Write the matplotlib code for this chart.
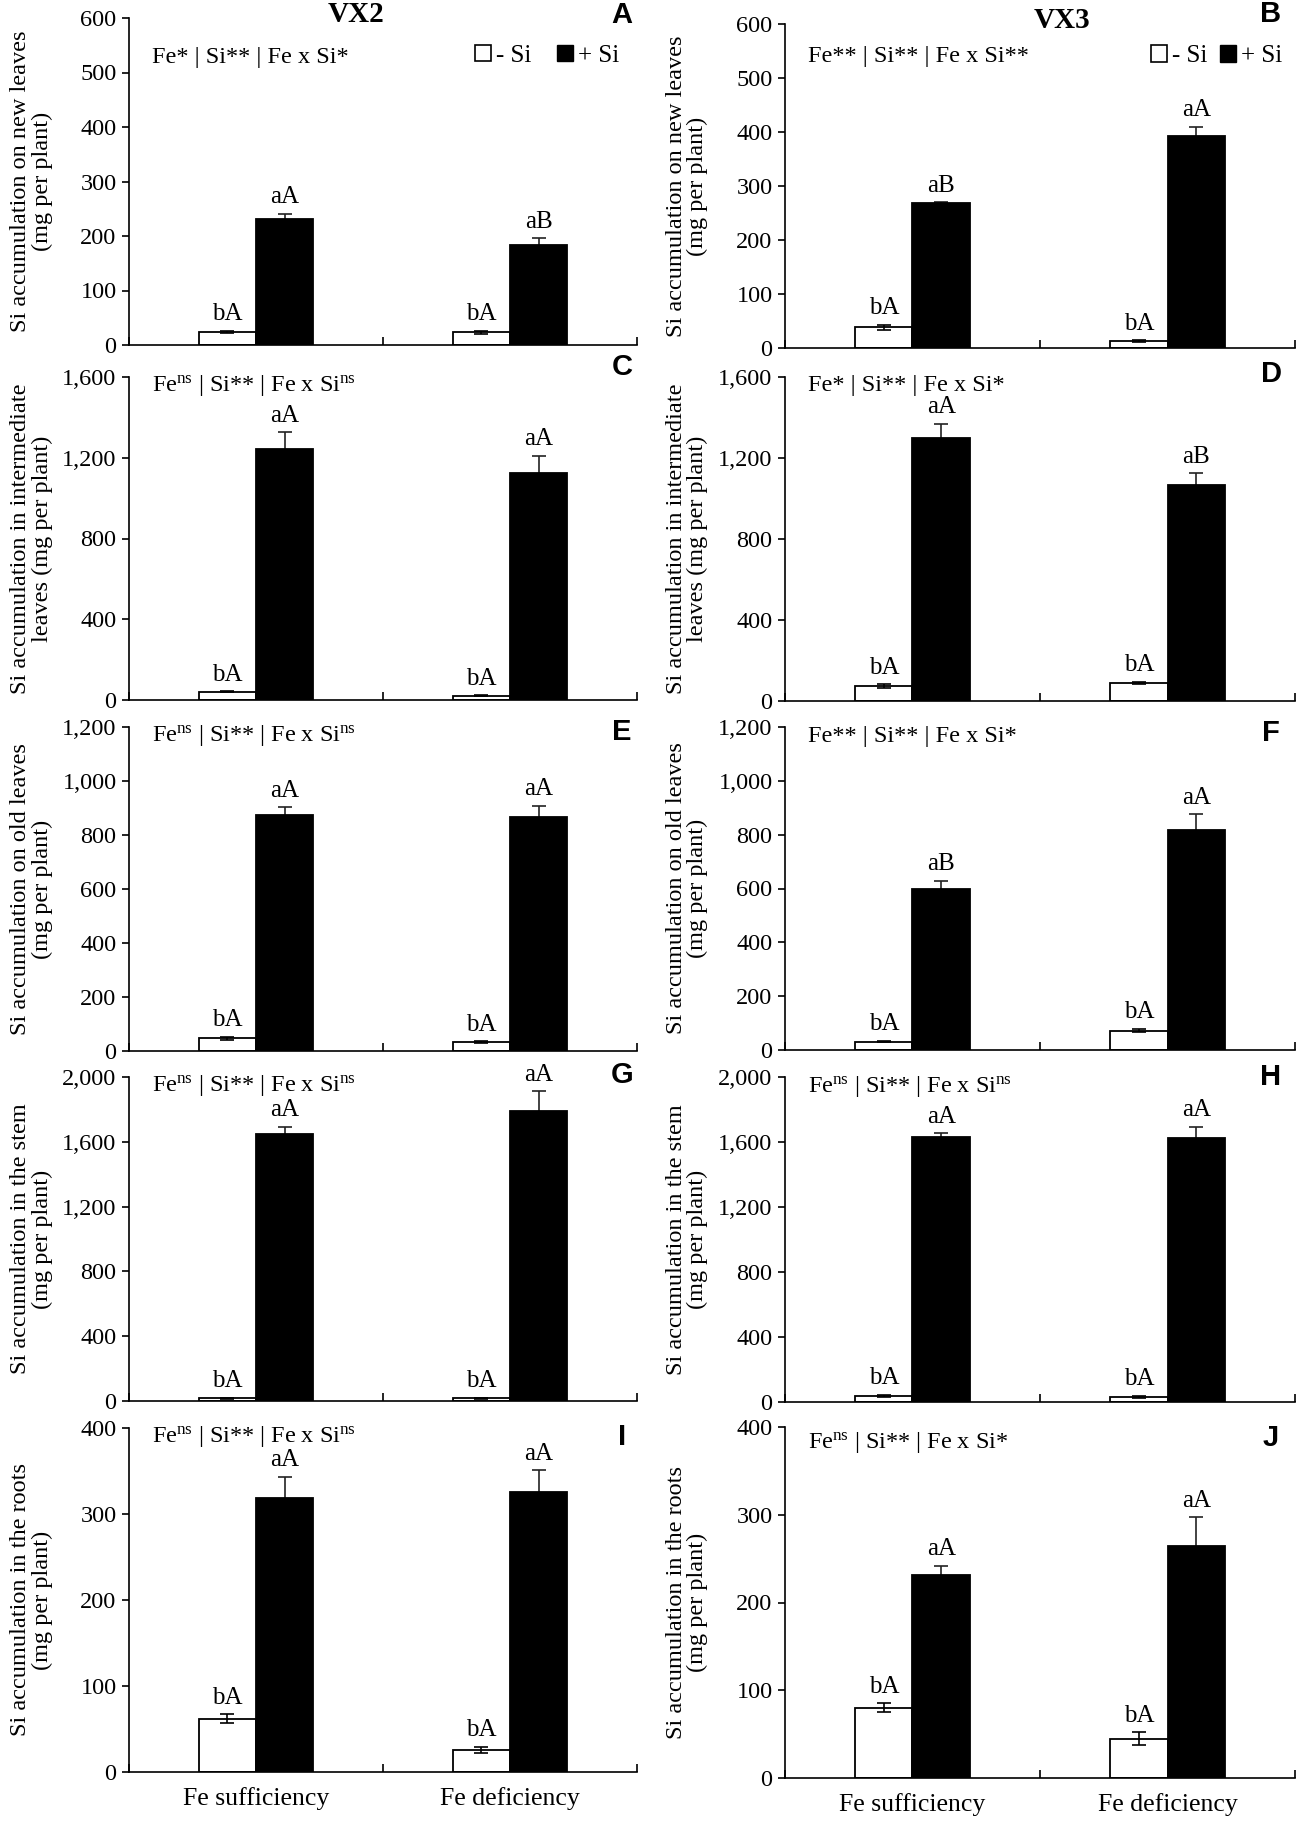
import matplotlib
matplotlib.use("Agg")
import matplotlib.pyplot as plt
from matplotlib.patches import Patch
from matplotlib.ticker import FuncFormatter, FixedLocator, MultipleLocator

plt.rcParams['font.family'] = 'Liberation Serif'
plt.rcParams['mathtext.fontset'] = 'custom'
plt.rcParams['mathtext.rm'] = 'Liberation Serif'
plt.rcParams['mathtext.it'] = 'Liberation Serif:italic'
plt.rcParams['mathtext.bf'] = 'Liberation Serif:bold'

categories = ['Fe sufficiency', 'Fe deficiency']
cultivars = ['VX2', 'VX3']

# rows = organ, each list holds [VX2 values, VX3 values]
new_minus = [[24, 23], [38, 13]]
new_minus_err = [[2, 3], [5, 1]]
new_plus = [[231, 184], [268, 393]]
new_plus_err = [[10, 12], [2, 17]]

inter_minus = [[41, 21], [74, 89]]
inter_minus_err = [[2, 2], [8, 6]]
inter_plus = [[1245, 1123], [1297, 1065]]
inter_plus_err = [[81, 86], [72, 59]]

old_minus = [[47, 33], [31, 72]]
old_minus_err = [[5, 3], [3, 6]]
old_plus = [[873, 868], [597, 816]]
old_plus_err = [[29, 40], [32, 60]]

stem_minus = [[16, 18], [38, 33]]
stem_minus_err = [[3, 3], [8, 6]]
stem_plus = [[1648, 1788], [1632, 1623]]
stem_plus_err = [[45, 123], [22, 72]]

root_minus = [[62, 26], [80, 45]]
root_minus_err = [[5, 3.5], [5, 7]]
root_plus = [[319, 326], [231, 264]]
root_plus_err = [[24, 25], [11, 33]]

minus_letters = [[['bA', 'bA'], ['bA', 'bA']]] * 5
plus_letters = [
    [['aA', 'aB'], ['aB', 'aA']],
    [['aA', 'aA'], ['aA', 'aB']],
    [['aA', 'aA'], ['aB', 'aA']],
    [['aA', 'aA'], ['aA', 'aA']],
    [['aA', 'aA'], ['aA', 'aA']],
]

stats = [
    ['Fe* | Si** | Fe x Si*', 'Fe** | Si** | Fe x Si**'],
    [r'$\mathrm{Fe}^{\mathrm{ns}}$ | Si** | Fe x Si$^{\mathrm{ns}}$', 'Fe* | Si** | Fe x Si*'],
    [r'$\mathrm{Fe}^{\mathrm{ns}}$ | Si** | Fe x Si$^{\mathrm{ns}}$', 'Fe** | Si** | Fe x Si*'],
    [r'$\mathrm{Fe}^{\mathrm{ns}}$ | Si** | Fe x Si$^{\mathrm{ns}}$', r'$\mathrm{Fe}^{\mathrm{ns}}$ | Si** | Fe x Si$^{\mathrm{ns}}$'],
    [r'$\mathrm{Fe}^{\mathrm{ns}}$ | Si** | Fe x Si$^{\mathrm{ns}}$', r'$\mathrm{Fe}^{\mathrm{ns}}$ | Si** | Fe x Si*'],
]

ylabels = [
    'Si accumulation on new leaves\n(mg per plant)',
    'Si accumulation in intermediate\nleaves (mg per plant)',
    'Si accumulation on old leaves\n(mg per plant)',
    'Si accumulation in the stem\n(mg per plant)',
    'Si accumulation in the roots\n(mg per plant)',
]
ymax = [600, 1600, 1200, 2000, 400]
ystep = [100, 400, 200, 400, 100]
panel_letters = [['A', 'B'], ['C', 'D'], ['E', 'F'], ['G', 'H'], ['I', 'J']]

minus_all = [new_minus, inter_minus, old_minus, stem_minus, root_minus]
minus_err_all = [new_minus_err, inter_minus_err, old_minus_err, stem_minus_err, root_minus_err]
plus_all = [new_plus, inter_plus, old_plus, stem_plus, root_plus]
plus_err_all = [new_plus_err, inter_plus_err, old_plus_err, stem_plus_err, root_plus_err]

W, H = 1299, 1821
fig = plt.figure(figsize=(W / 100, H / 100), dpi=100)

# axes extents in pixels: (top, bottom) per row and column
row_px = [
    [(18, 345), (24, 348)],
    [(377, 700), (377, 701)],
    [(727, 1051), (727, 1050)],
    [(1077, 1401), (1077, 1402)],
    [(1428, 1772), (1427, 1778)],
]
col_px = [(129, 637), (785, 1295)]
letter_y = [[1.01, 1.03], [1.03, 1.01], [0.985, 0.98], [1.005, 1.0], [0.975, 0.97]]
stat_y = [[0.88, 0.90], [0.975, 0.975], [0.975, 0.97], [0.975, 0.97], [0.975, 0.957]]

bw = 0.225
x = [0, 1]

for r in range(5):
    for c in range(2):
        top, bot = row_px[r][c]
        x0, x1 = col_px[c]
        ax = fig.add_axes([x0 / W, 1 - bot / H, (x1 - x0) / W, (bot - top) / H])

        mv = minus_all[r][c]
        me = minus_err_all[r][c]
        pv = plus_all[r][c]
        pe = plus_err_all[r][c]

        xm = [xi - bw / 2 for xi in x]
        xp = [xi + bw / 2 for xi in x]
        ax.bar(xm, mv, bw, color='white', edgecolor='black', linewidth=1.3, zorder=2)
        ax.bar(xp, pv, bw, color='black', edgecolor='black', linewidth=1.3, zorder=2)
        ax.errorbar(xm, mv, yerr=me, fmt='none', ecolor='black', elinewidth=1.2,
                    capsize=5, capthick=1.2, zorder=3)
        ax.errorbar(xp, pv, yerr=pe, fmt='none', ecolor='#222222', elinewidth=1.2,
                    capsize=5, capthick=1.2, zorder=1)

        for i in range(2):
            ax.annotate(minus_letters[r][c][i], (xm[i], mv[i] + me[i]), xytext=(0, 4),
                        textcoords='offset points', ha='center', va='bottom', fontsize=18)
            ax.annotate(plus_letters[r][c][i], (xp[i], pv[i] + pe[i]), xytext=(0, 4),
                        textcoords='offset points', ha='center', va='bottom', fontsize=18)

        ax.set_xlim(-0.5, 1.5)
        ax.set_ylim(0, ymax[r])
        ax.yaxis.set_major_locator(MultipleLocator(ystep[r]))
        ax.yaxis.set_major_formatter(FuncFormatter(lambda v, p: f'{v:,.0f}'))
        ax.tick_params(axis='y', direction='out', length=5, width=1.2, labelsize=17.5, pad=4)

        ax.set_xticks(x)
        ax.xaxis.set_minor_locator(FixedLocator([-0.5, 0.5, 1.5]))
        ax.tick_params(axis='x', which='major', length=0, pad=11, labelsize=18.5)
        ax.tick_params(axis='x', which='minor', direction='in', length=6, width=1.2)
        if r == 4:
            ax.set_xticklabels(categories)
        else:
            ax.set_xticklabels([])

        for s in ['top', 'right']:
            ax.spines[s].set_visible(False)
        for s in ['left', 'bottom']:
            ax.spines[s].set_linewidth(1.2)

        ax.set_ylabel(ylabels[r], fontsize=17.5, linespacing=1.05)
        ax.yaxis.set_label_coords(-0.15, 0.5)

        ax.text(0.045, stat_y[r][c], stats[r][c], transform=ax.transAxes,
                fontsize=17.5, ha='left', va='center')
        ax.text(0.97 if c == 0 else 0.953, letter_y[r][c], panel_letters[r][c],
                transform=ax.transAxes, fontsize=21, fontweight='bold',
                family='Liberation Sans', ha='center', va='center')

        if r == 0:
            ax.text(0.447 if c == 0 else 0.543, 1.01, cultivars[c], transform=ax.transAxes,
                    fontsize=21, fontweight='bold', ha='center', va='center')
            handles = [Patch(facecolor='white', edgecolor='black', linewidth=1.2, label='- Si'),
                       Patch(facecolor='black', edgecolor='black', label='+ Si')]
            ax.legend(handles=handles, loc='center right',
                      bbox_to_anchor=(0.965 if c == 0 else 0.975, 0.885 if c == 0 else 0.9),
                      ncol=2, frameon=False, fontsize=18, handlelength=0.65, handleheight=0.65,
                      handletextpad=0.2, columnspacing=1.0 if c == 0 else 0.5,
                      borderaxespad=0, borderpad=0)

fig.savefig('out.png', dpi=100)
